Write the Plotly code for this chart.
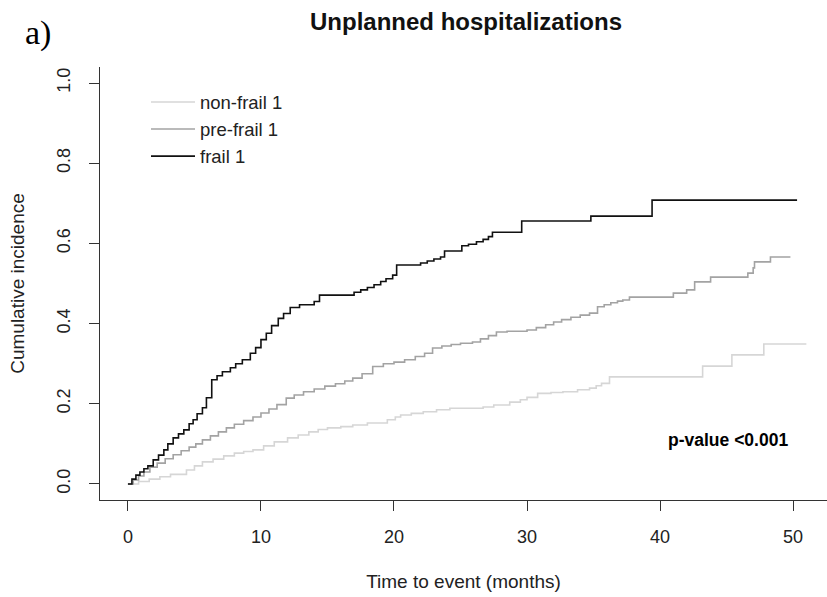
import plotly.graph_objects as go

# ---- data ----
frail_t = [0, 0.3, 0.6, 0.9, 1.2, 1.5, 1.9, 2.3, 2.7, 3.0, 3.4, 3.8, 4.2, 4.6, 4.9,
           5.2, 5.6, 5.9, 6.3, 6.7, 7.1, 7.7, 8.1, 8.6, 9.2, 9.6, 10.0, 10.4, 10.8, 11.3,
           11.7, 12.2, 12.9, 14.0, 14.4, 17.0, 17.5, 18.0, 18.5, 19.0, 19.4, 19.9, 20.2,
           22.0, 22.5, 23.0, 23.5, 23.8, 25.1, 25.6, 26.2, 26.7, 27.1, 27.4, 29.6, 34.8,
           39.4, 50.3]
frail_v = [0, 0.012, 0.022, 0.03, 0.038, 0.045, 0.06, 0.072, 0.085, 0.1, 0.115, 0.125,
           0.135, 0.15, 0.16, 0.175, 0.19, 0.215, 0.26, 0.27, 0.28, 0.29, 0.3, 0.31, 0.326,
           0.34, 0.36, 0.376, 0.395, 0.413, 0.425, 0.44, 0.447, 0.455, 0.471, 0.478, 0.484,
           0.49, 0.497, 0.505, 0.512, 0.521, 0.546, 0.551, 0.556, 0.561, 0.566, 0.581,
           0.594, 0.598, 0.604, 0.61, 0.617, 0.628, 0.656, 0.668, 0.708, 0.708]

prefrail_t = [0, 0.4, 0.8, 1.2, 1.65, 2.2, 2.8, 3.4, 4.0, 4.6, 5.1, 5.6, 6.2, 6.8, 7.4,
              8.0, 8.7, 9.4, 10.0, 10.6, 11.2, 11.9, 12.5, 13.2, 14.0, 14.8, 15.6, 16.3,
              16.9, 17.6, 18.4, 19.2, 20.0, 20.8, 21.6, 22.3, 22.9, 23.6, 24.3, 25.0, 25.9,
              26.5, 27.1, 27.7, 28.5, 30.0, 30.7, 31.4, 32.0, 32.6, 33.3, 34.0, 34.7, 35.3,
              35.8, 36.3, 36.8, 37.2, 37.7, 41.0, 42.0, 42.6, 43.8, 46.6, 47.0, 47.1, 48.3,
              49.8]
prefrail_v = [0, 0.01, 0.02, 0.03, 0.042, 0.052, 0.063, 0.073, 0.083, 0.092, 0.1, 0.11,
              0.12, 0.13, 0.14, 0.149, 0.158, 0.167, 0.177, 0.187, 0.198, 0.214, 0.222,
              0.23, 0.237, 0.244, 0.25, 0.257, 0.264, 0.275, 0.293, 0.3, 0.304, 0.31, 0.318,
              0.326, 0.339, 0.344, 0.348, 0.351, 0.354, 0.362, 0.37, 0.379, 0.381, 0.384,
              0.39, 0.397, 0.404, 0.41, 0.416, 0.421, 0.426, 0.442, 0.447, 0.452, 0.456,
              0.459, 0.466, 0.476, 0.484, 0.504, 0.516, 0.526, 0.539, 0.554, 0.566, 0.566]

nonfrail_t = [0, 0.8, 1.6, 2.4, 3.2, 4.4, 5.0, 5.6, 6.4, 7.2, 8.0, 8.7, 9.4, 10.2, 11.0,
              12.0, 12.8, 13.6, 14.3, 15.0, 16.0, 16.9, 18.0, 19.5, 20.1, 20.5, 21.3, 22.2,
              23.2, 24.2, 26.7, 27.5, 28.7, 29.5, 30.0, 30.8, 31.8, 32.7, 33.8, 34.7, 35.2,
              35.6, 36.2, 43.2, 45.4, 47.8, 51.0]
nonfrail_v = [0, 0.006, 0.012, 0.018, 0.024, 0.035, 0.045, 0.055, 0.062, 0.07, 0.077,
              0.081, 0.085, 0.095, 0.105, 0.115, 0.122, 0.13, 0.136, 0.14, 0.143, 0.147,
              0.152, 0.16, 0.167, 0.172, 0.176, 0.18, 0.185, 0.189, 0.192, 0.197, 0.204,
              0.21, 0.216, 0.226, 0.228, 0.23, 0.235, 0.239, 0.245, 0.251, 0.267, 0.294,
              0.322, 0.349, 0.349]

series_names = ["non-frail 1", "pre-frail 1", "frail 1"]
x_ticks = [0, 10, 20, 30, 40, 50]
y_ticks = [0.0, 0.2, 0.4, 0.6, 0.8, 1.0]
y_ticktext = ["0.0", "0.2", "0.4", "0.6", "0.8", "1.0"]

colors = ["#d6d6d6", "#a3a3a3", "#111111"]
series = [(nonfrail_t, nonfrail_v), (prefrail_t, prefrail_v), (frail_t, frail_v)]

FONT = "Liberation Sans, Arial, sans-serif"

fig = go.Figure()
for name, (t, v), c in zip(series_names, series, colors):
    fig.add_trace(go.Scatter(x=t, y=v, mode="lines", name=name,
                             line=dict(shape="hv", color=c, width=1.6),
                             hoverinfo="skip"))

fig.update_layout(
    width=827, height=597,
    margin=dict(l=100, r=0, t=67, b=97),
    paper_bgcolor="white", plot_bgcolor="white",
    font=dict(family=FONT, size=18, color="#222"),
    title=dict(text="Unplanned hospitalizations", x=466 / 827, xref="container",
               xanchor="center", y=1 - 22 / 597, yref="container", yanchor="middle",
               font=dict(family=FONT, size=24, color="#111", weight="bold")),
    showlegend=True,
    legend=dict(x=(146 - 100) / 727, y=0.962, xanchor="left", yanchor="top",
                bgcolor="rgba(0,0,0,0)", font=dict(family=FONT, size=18.5, color="#222"),
                tracegroupgap=0, itemwidth=44),
    xaxis=dict(range=[-2.1, 52.55], tickvals=x_ticks, showgrid=False, zeroline=False,
               showline=True, linecolor="#333", linewidth=1.3, ticks="outside",
               ticklen=10, tickcolor="#333", tickwidth=1.3,
               tickfont=dict(size=18, color="#222"), ticklabelstandoff=10,
               title=dict(text="Time to event (months)", font=dict(size=19, color="#222"),
                          standoff=28)),
    yaxis=dict(range=[-0.04, 1.04], tickvals=y_ticks, ticktext=y_ticktext,
               showgrid=False, zeroline=False, tickangle=-90,
               showline=True, linecolor="#333", linewidth=1.3, ticks="outside",
               ticklen=10, tickcolor="#333", tickwidth=1.3,
               tickfont=dict(size=18, color="#222"), ticklabelstandoff=12,
               title=dict(text="Cumulative incidence", font=dict(size=19, color="#222"),
                          standoff=24)),
    annotations=[
        dict(text="a)", xref="paper", yref="paper", x=(38 - 100) / 727, y=(500 - 34) / 432,
             xanchor="center", yanchor="middle", showarrow=False,
             font=dict(family="Liberation Serif, Times New Roman, serif", size=34,
                       color="#000")),
        dict(text="<b>p-value <0.001</b>", xref="paper", yref="paper",
             x=(727.5 - 100) / 727, y=(500 - 440) / 432, xanchor="center",
             yanchor="middle", showarrow=False,
             font=dict(family=FONT, size=17.5, color="#000")),
    ],
)

fig.write_html("out.html")
